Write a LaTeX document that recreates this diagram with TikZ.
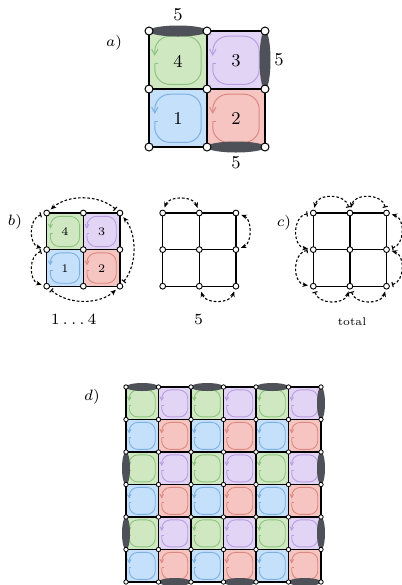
\documentclass[tikz,border=0pt]{standalone}
\usepackage{fix-cm}
\usetikzlibrary{arrows.meta}
\definecolor{gfill}{HTML}{D0E8C2}
\definecolor{pfill}{HTML}{E2D4F5}
\definecolor{bfill}{HTML}{C4E0FA}
\definecolor{rfill}{HTML}{F6C5C1}
\definecolor{gline}{HTML}{8DC47F}
\definecolor{pline}{HTML}{B89EE0}
\definecolor{bline}{HTML}{7EB0E0}
\definecolor{rline}{HTML}{DA8880}
\definecolor{ellgray}{HTML}{4E5258}
\def\clpW{0.5pt}
\newcommand\cellloop[4]{%
  \pgfmathsetmacro\clpL{#1+0.1*(#3)}%
  \pgfmathsetmacro\clpR{#1+0.9*(#3)}%
  \pgfmathsetmacro\clpT{#2+0.09*(#3)}%
  \pgfmathsetmacro\clpB{#2+0.92*(#3)}%
  \pgfmathsetmacro\clpS{#2+0.56*(#3)}%
  \pgfmathsetmacro\clpE{#2+0.43*(#3)}%
  \pgfmathsetmacro\clpX{#1+0.16*(#3)}%
  \pgfmathsetmacro\clpRad{0.13*(#3)}%
  \pgfmathsetmacro\clpA{0.05*(#3)}%
  \pgfmathsetmacro\clpAw{0.055*(#3)}%
  \fill[#4fill] (#1,#2) rectangle ++(#3,#3);
  \draw[#4line,line width=\clpW] (\clpL,\clpS) -- (\clpX,\clpS);
  \draw[#4line,line width=\clpW,rounded corners=\clpRad pt,
        -{Straight Barb[length=\clpA pt,width=\clpAw pt]}]
    (\clpL,\clpS) -- (\clpL,\clpB) -- (\clpR,\clpB) -- (\clpR,\clpT)
    -- (\clpL,\clpT) -- (\clpL,\clpE);
}
\newcommand\gridpoints[4]{%
  \foreach \i in {0,1,2}{\foreach \j in {0,1,2}{%
    \coordinate (#1\i\j) at ({#2+#4*\i},{#3+#4*\j});}}%
}
\newcommand\gridlines[2]{%
  \draw[#2] (#100) -- (#120) (#101) -- (#121) (#102) -- (#122)
            (#100) -- (#102) (#110) -- (#112) (#120) -- (#122);
}
\newcommand\gridverts[2]{%
  \foreach \i in {0,1,2}{\foreach \j in {0,1,2}{%
    \node[#2] (v#1\i\j) at (#1\i\j) {};}}%
}
\tikzset{
  vtxA/.style={circle,draw=black,fill=white,line width=0.5pt,inner sep=0pt,minimum size=4pt},
  vtxB/.style={circle,draw=black,fill=white,line width=0.45pt,inner sep=0pt,minimum size=2.9pt},
  vtxD/.style={circle,draw=black,fill=white,line width=0.4pt,inner sep=0pt,minimum size=2.2pt},
  gridA/.style={line width=0.8pt,black},
  gridB/.style={line width=0.6pt,black},
  gridD/.style={line width=0.7pt,black},
  ellc/.style={fill=ellgray},
  dasharc/.style={dash pattern=on 1.3pt off 1pt,line width=0.55pt,shorten <=1.2pt,shorten >=1pt},
  barstealth/.style={{Bar[width=2.6pt,line width=0.55pt]}-{Stealth[length=2.8pt,width=2.3pt]}},
  bothstealth/.style={{Stealth[length=2.8pt,width=2.3pt]}-{Stealth[length=2.8pt,width=2.3pt]}},
  numA/.style={font=\fontsize{9}{10}\selectfont,inner sep=0pt},
  numB/.style={font=\fontsize{5.8}{6.5}\selectfont,inner sep=0pt},
  panlab/.style={font=\fontsize{7.5}{9}\selectfont,inner sep=0pt},
  caplab/.style={font=\fontsize{7.8}{9}\selectfont,inner sep=0pt},
  smalllab/.style={font=\fontsize{5.6}{6.5}\selectfont,inner sep=0pt},
}
\begin{document}
\begin{tikzpicture}[x=0.5pt,y=-0.5pt]
\useasboundingbox (0,0) rectangle (402,585);

% ---------------- panel a ----------------
\cellloop{149}{31}{58}{g}
\cellloop{207}{31}{58}{p}
\cellloop{149}{89}{58}{b}
\cellloop{207}{89}{58}{r}
\gridpoints{a}{149}{31}{58}
\gridlines{a}{gridA}
\fill[ellc] (178,31) ellipse [x radius=29.5, y radius=5.5];
\fill[ellc] (265,60) ellipse [x radius=5.5, y radius=29.5];
\fill[ellc] (236,147) ellipse [x radius=29.5, y radius=5.5];
\gridverts{a}{vtxA}
\node[numA] (na4) at (178,61) {4};
\node[numA] (na3) at (236,61) {3};
\node[numA] (na1) at (178,119) {1};
\node[numA] (na2) at (236,119) {2};
\node[numA] (la5t) at (178,15) {5};
\node[numA] (la5r) at (279,60) {5};
\node[numA] (la5b) at (236,163) {5};
\node[panlab] (laba) at (114,43) {$a)$};

% ---------------- panel b ----------------
\def\clpW{0.45pt}
\cellloop{46.7}{213}{36.6}{g}
\cellloop{83.3}{213}{36.6}{p}
\cellloop{46.7}{249.6}{36.6}{b}
\cellloop{83.3}{249.6}{36.6}{r}
\gridpoints{b}{46.7}{213}{36.6}
\gridlines{b}{gridB}
\gridverts{b}{vtxB}
\node[numB] (nb4) at (65,232) {4};
\node[numB] (nb3) at (101.6,232) {3};
\node[numB] (nb1) at (65,268.5) {1};
\node[numB] (nb2) at (101.6,268.5) {2};
\draw[dasharc,barstealth] (vb20) .. controls +(-20.8,-18.6) and +(20.8,-18.6) .. (vb00);
\draw[dasharc,barstealth] (vb00) .. controls +(-18.1,5.4) and +(-18.1,-5.4) .. (vb01);
\draw[dasharc,barstealth] (vb01) .. controls +(-18.1,5.4) and +(-18.1,-5.4) .. (vb02);
\draw[dasharc,barstealth] (vb02) .. controls +(20.8,18.6) and +(-20.8,18.6) .. (vb22);
\draw[dasharc,barstealth] (vb22) .. controls +(17.3,-21.2) and +(17.3,21.2) .. (vb20);
\node[panlab] (labb) at (15,222) {$b)$};
\node[caplab] (capb) at (73.7,319) {$1\ldots4$};

% ---------------- panel 5 ----------------
\gridpoints{m}{162.7}{213}{36.6}
\gridlines{m}{gridB}
\gridverts{m}{vtxB}
\draw[dasharc,bothstealth] (vm00) .. controls +(6,-17.3) and +(-6,-17.3) .. (vm10);
\draw[dasharc,bothstealth] (vm20) .. controls +(16.3,6) and +(16.3,-6) .. (vm21);
\draw[dasharc,bothstealth] (vm12) .. controls +(6,17.8) and +(-6,17.8) .. (vm22);
\node[caplab] (capm) at (198.5,319) {$5$};

% ---------------- panel c ----------------
\gridpoints{c}{313.3}{213}{36.6}
\gridlines{c}{gridB}
\gridverts{c}{vtxB}
\draw[dasharc,barstealth] (vc10) .. controls +(-4.2,-19.8) and +(4.2,-19.8) .. (vc00);
\draw[dasharc,barstealth] (vc20) .. controls +(-4.2,-19.8) and +(4.2,-19.8) .. (vc10);
\draw[dasharc,barstealth] (vc00) .. controls +(-21.1,3.1) and +(-21.1,-3.1) .. (vc01);
\draw[dasharc,barstealth] (vc01) .. controls +(-21.1,3.1) and +(-21.1,-3.1) .. (vc02);
\draw[dasharc,barstealth] (vc02) .. controls +(5,18.6) and +(-5,18.6) .. (vc12);
\draw[dasharc,barstealth] (vc12) .. controls +(5,18.6) and +(-5,18.6) .. (vc22);
\draw[dasharc,barstealth] (vc22) .. controls +(18.6,-5) and +(18.6,5) .. (vc21);
\draw[dasharc,barstealth] (vc21) .. controls +(18.6,-5) and +(18.6,5) .. (vc20);
\node[panlab] (labc) at (284,223) {$c)$};
\node[smalllab] (capc) at (352,322) {total};

% ---------------- panel d ----------------
\def\clpW{0.45pt}
\foreach \i in {0,...,5}{\foreach \j in {0,...,5}{%
  \pgfmathtruncatemacro\cc{mod(\i,2)+2*mod(\j,2)}%
  \ifcase\cc \def\col{g}\or \def\col{p}\or \def\col{b}\else \def\col{r}\fi
  \cellloop{126+32.5*\i}{387+32.5*\j}{32.5}{\col}
}}
\foreach \i in {0,...,6}{\foreach \j in {0,...,6}{%
  \coordinate (d\i\j) at ({126+32.5*\i},{387+32.5*\j});}}
\foreach \k in {0,...,6}{%
  \draw[gridD] (d0\k) -- (d6\k);
  \draw[gridD] (d\k0) -- (d\k6);
}
\foreach \c in {0,2,4}{\fill[ellc] ({126+32.5*(\c+0.5)},387) ellipse [x radius=16.5, y radius=4];}
\foreach \c in {1,3,5}{\fill[ellc] ({126+32.5*(\c+0.5)},582) ellipse [x radius=16.5, y radius=4];}
\foreach \r in {0,2,4}{\fill[ellc] (321,{387+32.5*(\r+0.5)}) ellipse [x radius=4, y radius=16.5];}
\foreach \r in {2,4}{\fill[ellc] (126,{387+32.5*(\r+0.5)}) ellipse [x radius=4, y radius=16.5];}
\foreach \i in {0,...,6}{\foreach \j in {0,...,6}{%
  \node[vtxD] (vd\i\j) at (d\i\j) {};}}
\node[panlab] (labd) at (92,397) {$d)$};
\end{tikzpicture}
\end{document}
